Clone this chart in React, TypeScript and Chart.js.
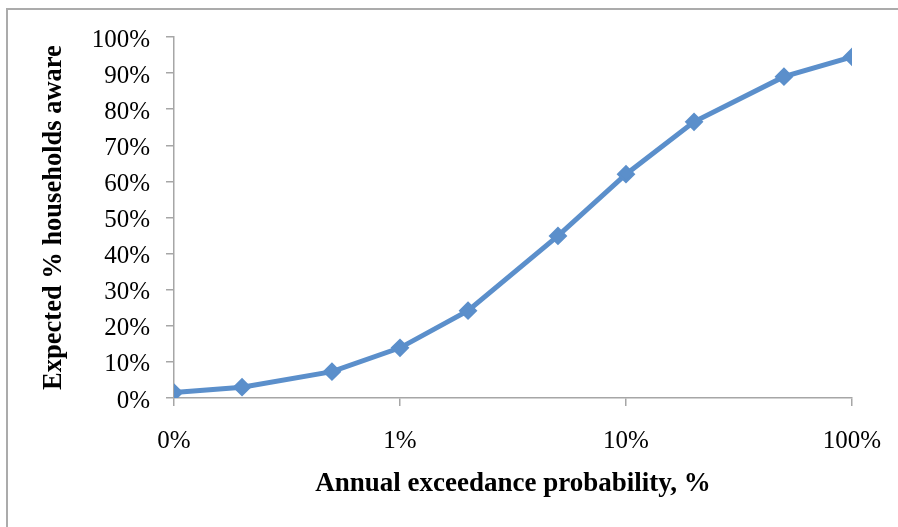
import React, { useEffect, useRef } from "react";
import { Chart, registerables } from "chart.js";

Chart.register(...registerables);

// Annual exceedance probability (%) and expected share of households aware (%)
const probabilities = [0.1, 0.2, 0.5, 1, 2, 5, 10, 20, 50, 100];
const awareness = [1.5, 3.0, 7.3, 13.9, 24.2, 44.9, 62.0, 76.5, 89.0, 94.5];

const xTickValues = [0.1, 1, 10, 100];
const xTickLabels = ["0%", "1%", "10%", "100%"];
const yTickValues = [0, 10, 20, 30, 40, 50, 60, 70, 80, 90, 100];
const yTickLabels = yTickValues.map((v) => `${v}%`);

const xTitle = "Annual exceedance probability, %";
const yTitle = "Expected % households aware";

const SERIF = '"Liberation Serif", "Times New Roman", serif';
const LINE_COLOR = "#5b8fcb";
const AXIS_COLOR = "#a6a6a6";

const titlePlugin = {
  id: "axisTitles",
  afterDraw(chart: any) {
    const { ctx, chartArea } = chart;
    ctx.save();
    ctx.fillStyle = "#000";
    ctx.textAlign = "center";
    ctx.textBaseline = "middle";
    ctx.font = `bold 27px ${SERIF}`;
    ctx.fillText(xTitle, (chartArea.left + chartArea.right) / 2, chartArea.bottom + 86);
    ctx.translate(chartArea.left - 120, (chartArea.top + chartArea.bottom) / 2);
    ctx.rotate(-Math.PI / 2);
    ctx.font = `bold 26.5px ${SERIF}`;
    ctx.fillText(yTitle, 0, 0);
    ctx.restore();
  },
};

export default function App() {
  const canvasRef = useRef<HTMLCanvasElement | null>(null);

  useEffect(() => {
    if (!canvasRef.current) return;
    const chart = new Chart(canvasRef.current, {
      type: "line",
      data: {
        datasets: [
          {
            data: probabilities.map((p, i) => ({ x: p, y: awareness[i] })),
            borderColor: LINE_COLOR,
            backgroundColor: LINE_COLOR,
            borderWidth: 5,
            pointStyle: "rectRot",
            pointRadius: 8,
            pointBorderWidth: 2,
            pointBorderColor: LINE_COLOR,
            pointBackgroundColor: LINE_COLOR,
            tension: 0,
            fill: false,
          },
        ],
      },
      options: {
        animation: false,
        responsive: false,
        maintainAspectRatio: false,
        layout: { padding: { left: 0, top: 37, right: 46, bottom: 0 } },
        plugins: {
          legend: { display: false },
          tooltip: { enabled: false },
          title: { display: false },
        },
        scales: {
          x: {
            type: "logarithmic",
            min: 0.1,
            max: 100,
            afterBuildTicks: (scale: any) => {
              scale.ticks = xTickValues.map((v) => ({ value: v }));
            },
            afterFit: (scale: any) => {
              scale.height = 129;
              scale.paddingLeft = 0;
              scale.paddingRight = 0;
            },
            grid: {
              drawOnChartArea: false,
              drawTicks: true,
              tickLength: 8,
              color: AXIS_COLOR,
              lineWidth: 1.5,
            },
            border: { display: true, color: AXIS_COLOR, width: 1.5 },
            ticks: {
              autoSkip: false,
              maxRotation: 0,
              padding: 20,
              color: "#000",
              font: { family: SERIF, size: 25 },
              callback: (value: any) => {
                const idx = xTickValues.findIndex((v) => Math.abs(v - Number(value)) < 1e-9);
                return idx >= 0 ? xTickLabels[idx] : "";
              },
            },
          },
          y: {
            type: "linear",
            min: 0,
            max: 100,
            afterBuildTicks: (scale: any) => {
              scale.ticks = yTickValues.map((v) => ({ value: v }));
            },
            afterFit: (scale: any) => {
              scale.width = 174;
              scale.paddingTop = 0;
              scale.paddingBottom = 0;
            },
            grid: {
              drawOnChartArea: false,
              drawTicks: true,
              tickLength: 8,
              color: AXIS_COLOR,
              lineWidth: 1.5,
            },
            border: { display: true, color: AXIS_COLOR, width: 1.5 },
            ticks: {
              padding: 16,
              labelOffset: 3,
              color: "#000",
              font: { family: SERIF, size: 25 },
              callback: (value: any) => {
                const idx = yTickValues.indexOf(Number(value));
                return idx >= 0 ? yTickLabels[idx] : "";
              },
            },
          },
        },
      },
      plugins: [titlePlugin],
    } as any);
    return () => chart.destroy();
  }, []);

  return (
    <div
      style={{
        position: "absolute",
        left: 0,
        top: 0,
        width: 898,
        height: 527,
        background: "#fff",
        overflow: "hidden",
      }}
    >
      <div
        style={{
          position: "absolute",
          left: 6,
          top: 8,
          width: 920,
          height: 540,
          borderLeft: "2px solid #ababab",
          borderTop: "2px solid #ababab",
        }}
      />
      <canvas
        ref={canvasRef}
        width={898}
        height={527}
        style={{ position: "absolute", left: 0, top: 0, width: 898, height: 527 }}
      />
    </div>
  );
}
